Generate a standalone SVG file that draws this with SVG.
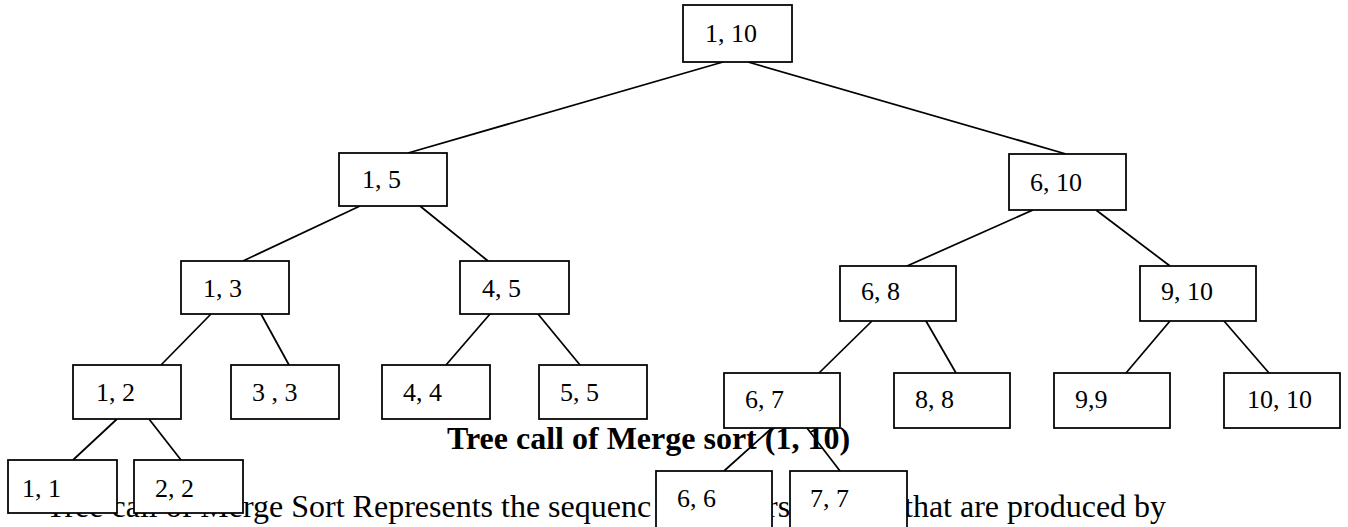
<svg xmlns="http://www.w3.org/2000/svg" width="1348" height="527" viewBox="0 0 1348 527">
<style>
.box{fill:#fff;stroke:#000;stroke-width:1.75}
.lbl{font-family:"Liberation Serif","Times New Roman",serif;font-size:26px;fill:#000}
.edge{stroke:#000;stroke-width:1.75;fill:none}
.title{font-family:"Liberation Serif","Times New Roman",serif;font-size:32px;font-weight:bold;fill:#000}
.body{font-family:"Liberation Serif","Times New Roman",serif;font-size:32px;fill:#000}
</style>
<rect width="1348" height="527" fill="#fff"/>
<g id="captions">
<text class="title" x="447" y="449">Tree call of Merge sort (1, 10)</text>
<text class="body" y="517"><tspan x="46">Tree call of Merge Sort Represents the sequenc</tspan><tspan x="767">rs</tspan><tspan x="904">that are produced by</tspan></text>
</g>
<g id="connectors">
<line class="edge" x1="723" y1="62" x2="408" y2="153"/>
<line class="edge" x1="748" y1="62" x2="1066" y2="154"/>
<line class="edge" x1="360" y1="206" x2="243" y2="261"/>
<line class="edge" x1="420" y1="206" x2="488" y2="261"/>
<line class="edge" x1="1033" y1="210" x2="907" y2="266"/>
<line class="edge" x1="1096" y1="210" x2="1170" y2="266"/>
<line class="edge" x1="211" y1="314" x2="161" y2="365"/>
<line class="edge" x1="261" y1="314" x2="289" y2="365"/>
<line class="edge" x1="490" y1="314" x2="446" y2="365"/>
<line class="edge" x1="538" y1="314" x2="580" y2="365"/>
<line class="edge" x1="872" y1="321" x2="819" y2="373"/>
<line class="edge" x1="926" y1="321" x2="956" y2="373"/>
<line class="edge" x1="1170" y1="321" x2="1126" y2="373"/>
<line class="edge" x1="1224" y1="321" x2="1269" y2="373"/>
<line class="edge" x1="117" y1="419" x2="73" y2="460"/>
<line class="edge" x1="149" y1="419" x2="181" y2="460"/>
<line class="edge" x1="772" y1="428" x2="724" y2="471"/>
<line class="edge" x1="807" y1="428" x2="840" y2="471"/>
</g>
<g id="n1_10"><rect class="box" x="683" y="5" width="109" height="57"/><text class="lbl" x="705" y="42">1, 10</text></g>
<g id="n1_5"><rect class="box" x="339" y="153" width="108" height="53"/><text class="lbl" x="362" y="188">1, 5</text></g>
<g id="n6_10"><rect class="box" x="1009" y="154" width="117" height="56"/><text class="lbl" x="1030" y="191">6, 10</text></g>
<g id="n1_3"><rect class="box" x="181" y="261" width="108" height="53"/><text class="lbl" x="203" y="297">1, 3</text></g>
<g id="n4_5"><rect class="box" x="460" y="261" width="109" height="53"/><text class="lbl" x="482" y="297">4, 5</text></g>
<g id="n6_8"><rect class="box" x="840" y="266" width="116" height="55"/><text class="lbl" x="861" y="300">6, 8</text></g>
<g id="n9_10"><rect class="box" x="1140" y="266" width="116" height="55"/><text class="lbl" x="1161" y="300">9, 10</text></g>
<g id="n1_2"><rect class="box" x="73" y="365" width="108" height="54"/><text class="lbl" x="96" y="401">1, 2</text></g>
<g id="n3_3"><rect class="box" x="231" y="365" width="108" height="54"/><text class="lbl" x="252" y="401">3 , 3</text></g>
<g id="n4_4"><rect class="box" x="382" y="365" width="108" height="54"/><text class="lbl" x="403" y="401">4, 4</text></g>
<g id="n5_5"><rect class="box" x="539" y="365" width="108" height="54"/><text class="lbl" x="560" y="401">5, 5</text></g>
<g id="n6_7"><rect class="box" x="724" y="373" width="116" height="55"/><text class="lbl" x="745" y="408">6, 7</text></g>
<g id="n8_8"><rect class="box" x="894" y="373" width="116" height="55"/><text class="lbl" x="915" y="408">8, 8</text></g>
<g id="n9_9"><rect class="box" x="1054" y="373" width="116" height="55"/><text class="lbl" x="1075" y="408">9,9</text></g>
<g id="n10_10"><rect class="box" x="1224" y="373" width="116" height="55"/><text class="lbl" x="1247" y="408">10, 10</text></g>
<g id="n1_1"><rect class="box" x="8" y="460" width="109" height="53"/><text class="lbl" x="22" y="497">1, 1</text></g>
<g id="n2_2"><rect class="box" x="134" y="460" width="109" height="53"/><text class="lbl" x="155" y="497">2, 2</text></g>
<g id="n6_6"><rect class="box" x="656" y="471" width="116" height="58"/><text class="lbl" x="677" y="507">6, 6</text></g>
<g id="n7_7"><rect class="box" x="790" y="471" width="117" height="58"/><text class="lbl" x="810" y="507">7, 7</text></g>
</svg>
